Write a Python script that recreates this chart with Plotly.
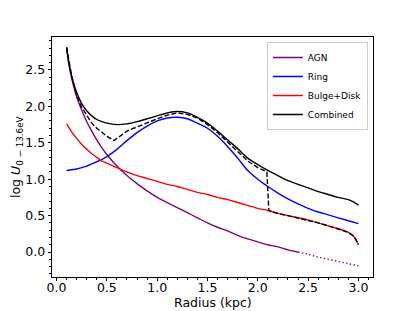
import plotly.graph_objects as go

# ---- data ----
r_agn = [0.1, 0.125, 0.15, 0.175, 0.2, 0.25, 0.3, 0.35, 0.4, 0.45, 0.5, 0.6, 0.7, 0.8, 0.9,
         1.0, 1.1, 1.2, 1.3, 1.4, 1.5, 1.6, 1.7, 1.8, 1.9, 2.0, 2.1, 2.2, 2.3, 2.4]
agn = [2.80, 2.56, 2.39, 2.25, 2.13, 1.95, 1.79, 1.66, 1.54, 1.43, 1.34, 1.18, 1.05, 0.94, 0.84,
       0.75, 0.68, 0.61, 0.54, 0.47, 0.40, 0.34, 0.29, 0.23, 0.18, 0.14, 0.10, 0.07, 0.03, 0.00]

r_agn_ext = [2.4, 2.5, 2.6, 2.7, 2.8, 2.9, 3.0]
agn_ext = [0.00, -0.03, -0.07, -0.10, -0.13, -0.16, -0.19]

r_ring = [0.1, 0.15, 0.2, 0.25, 0.3, 0.35, 0.4, 0.45, 0.5, 0.6, 0.7, 0.8, 0.9, 1.0, 1.1, 1.2,
          1.3, 1.4, 1.5, 1.6, 1.7, 1.8, 1.9, 2.0, 2.1, 2.2, 2.3, 2.4, 2.5, 2.6, 2.7, 2.8, 2.9, 3.0]
ring = [1.12, 1.13, 1.14, 1.16, 1.18, 1.21, 1.24, 1.27, 1.31, 1.41, 1.53, 1.64, 1.73, 1.80, 1.84, 1.85,
        1.83, 1.77, 1.70, 1.59, 1.45, 1.29, 1.12, 1.00, 0.90, 0.81, 0.73, 0.66, 0.60, 0.55, 0.51, 0.47, 0.43, 0.39]

r_bd = [0.1, 0.15, 0.2, 0.25, 0.3, 0.35, 0.4, 0.45, 0.5, 0.6, 0.7, 0.8, 0.9, 1.0, 1.1, 1.2, 1.3,
        1.4, 1.5, 1.6, 1.7, 1.8, 1.9, 2.0, 2.1, 2.2, 2.3, 2.4, 2.5, 2.6, 2.7, 2.8, 2.85, 2.9, 2.95,
        2.975, 3.0]
bulge_disk = [1.76, 1.65, 1.56, 1.48, 1.41, 1.35, 1.30, 1.25, 1.22, 1.16, 1.10, 1.05, 1.01, 0.97, 0.93,
              0.90, 0.86, 0.82, 0.79, 0.75, 0.72, 0.68, 0.64, 0.60, 0.57, 0.53, 0.50, 0.47, 0.44, 0.40,
              0.36, 0.32, 0.30, 0.27, 0.22, 0.17, 0.10]

r_comb = [0.1, 0.125, 0.15, 0.175, 0.2, 0.25, 0.3, 0.35, 0.4, 0.45, 0.5, 0.6, 0.7, 0.8, 0.9, 1.0,
          1.1, 1.2, 1.3, 1.4, 1.5, 1.6, 1.7, 1.8, 1.9, 2.0, 2.1, 2.2, 2.3, 2.4, 2.5, 2.6, 2.7, 2.8,
          2.9, 2.95, 3.0]
combined = [2.81, 2.58, 2.42, 2.29, 2.19, 2.04, 1.94, 1.87, 1.82, 1.79, 1.77, 1.75, 1.76, 1.79, 1.83,
            1.87, 1.91, 1.93, 1.91, 1.85, 1.77, 1.66, 1.54, 1.42, 1.29, 1.20, 1.12, 1.05, 0.98, 0.93,
            0.88, 0.83, 0.79, 0.75, 0.72, 0.69, 0.645]

r_dash = [0.1, 0.125, 0.15, 0.175, 0.2, 0.25, 0.3, 0.35, 0.4, 0.45, 0.5, 0.55, 0.57, 0.6, 0.65, 0.7,
          0.75, 0.8, 0.9, 1.0, 1.1, 1.2, 1.3, 1.4, 1.5, 1.6, 1.7, 1.8, 1.9, 2.0, 2.09, 2.11, 2.2,
          2.3, 2.4, 2.5, 2.6, 2.7, 2.8, 2.85, 2.9, 2.95, 2.975, 3.0]
combined_alt = [2.81, 2.58, 2.42, 2.29, 2.17, 1.99, 1.87, 1.77, 1.70, 1.64, 1.59, 1.55, 1.53, 1.56,
                1.61, 1.66, 1.69, 1.72, 1.77, 1.83, 1.88, 1.91, 1.89, 1.84, 1.75, 1.64, 1.51, 1.38,
                1.25, 1.16, 1.10, 0.57, 0.53, 0.50, 0.47, 0.44, 0.40, 0.36, 0.32, 0.30, 0.27, 0.22,
                0.17, 0.10]

x_ticks = [0.0, 0.5, 1.0, 1.5, 2.0, 2.5, 3.0]
x_tick_labels = ["0.0", "0.5", "1.0", "1.5", "2.0", "2.5", "3.0"]
y_ticks = [0.0, 0.5, 1.0, 1.5, 2.0, 2.5]
y_tick_labels = ["0.0", "0.5", "1.0", "1.5", "2.0", "2.5"]
x_title = "Radius (kpc)"
y_title = "log <i>U</i><sub>0 − 13.6eV</sub>"

LW = 1.4
FONT = "DejaVu Sans"

fig = go.Figure()
fig.add_trace(go.Scatter(x=r_agn, y=agn, mode="lines", name="AGN", line_shape="spline",
                         line=dict(color="purple", width=LW)))
fig.add_trace(go.Scatter(x=r_agn_ext, y=agn_ext, mode="lines", showlegend=False, line_shape="spline",
                         line=dict(color="purple", width=LW, dash="1.4px,2.4px")))
fig.add_trace(go.Scatter(x=r_ring, y=ring, mode="lines", name="Ring", line_shape="spline",
                         line=dict(color="blue", width=LW)))
fig.add_trace(go.Scatter(x=r_bd, y=bulge_disk, mode="lines", name="Bulge+Disk", line_shape="spline",
                         line=dict(color="red", width=LW)))
fig.add_trace(go.Scatter(x=r_comb, y=combined, mode="lines", name="Combined", line_shape="spline",
                         line=dict(color="black", width=LW)))
fig.add_trace(go.Scatter(x=r_dash, y=combined_alt, mode="lines", showlegend=False,
                         line=dict(color="black", width=LW, dash="5px,2.2px")))

axis_common = dict(
    ticks="outside", ticklen=3.5, tickwidth=0.8, tickcolor="black",
    showline=True, linecolor="black", linewidth=0.8, mirror=True,
    showgrid=False, zeroline=False, automargin=False,
    tickfont=dict(family=FONT, size=12.5, color="black"),
    minor=dict(ticks="outside", ticklen=2, tickwidth=0.6, tickcolor="black", dtick=0.1, tick0=0,
               showgrid=False),
)

fig.update_xaxes(range=[-0.045, 3.145], tickmode="array", tickvals=x_ticks, ticktext=x_tick_labels,
                 ticklabelstandoff=-4, **axis_common)
fig.update_yaxes(range=[-0.343, 2.953], tickmode="array", tickvals=y_ticks, ticktext=y_tick_labels,
                 **axis_common)

fig.add_annotation(text=x_title, xref="paper", yref="paper", x=0.5, y=0, yshift=-25,
                   xanchor="center", yanchor="middle", showarrow=False,
                   font=dict(family=FONT, size=12.5, color="black"))
fig.add_annotation(text=y_title, xref="paper", yref="paper", x=0, y=0.5, xshift=-36,
                   xanchor="center", yanchor="middle", textangle=-90, showarrow=False,
                   font=dict(family=FONT, size=12.5, color="black"))

fig.update_layout(
    width=415, height=311,
    margin=dict(l=52, r=42, t=37, b=34),
    paper_bgcolor="white", plot_bgcolor="white",
    font=dict(family=FONT, color="black"),
    legend=dict(x=0.984, y=0.979, xanchor="right", yanchor="top",
                bgcolor="rgba(255,255,255,0.8)", bordercolor="#cccccc", borderwidth=1,
                font=dict(family=FONT, size=9, color="black"), itemwidth=30,
                tracegroupgap=0),
)

fig.write_html("out.html", config={"displayModeBar": False},
               post_script="document.body.style.margin='0';")
